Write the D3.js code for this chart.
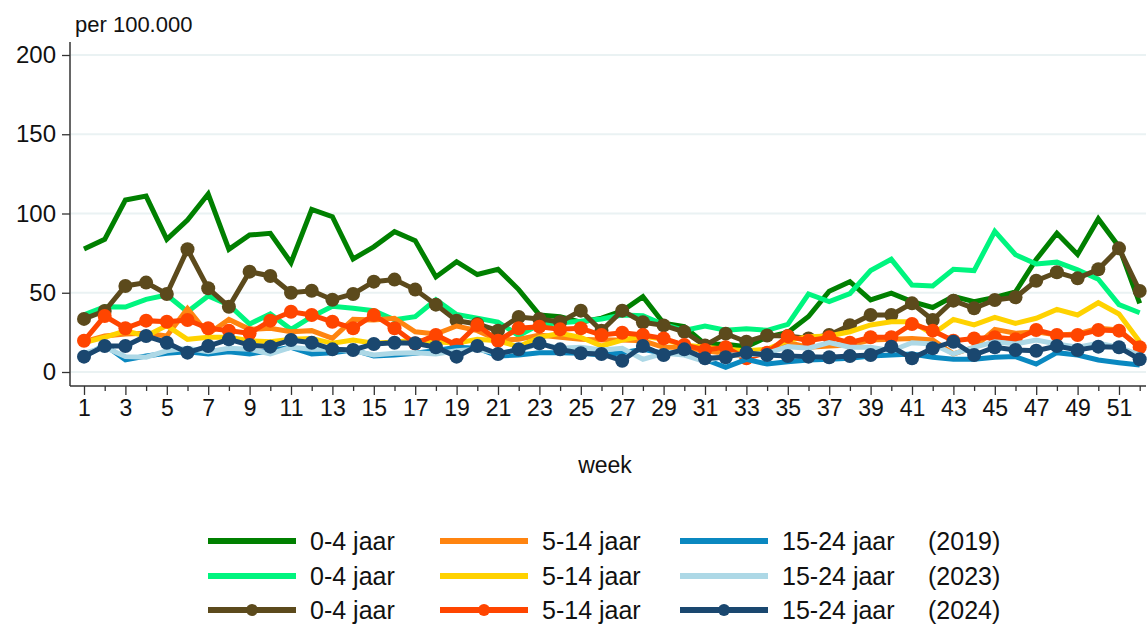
<!DOCTYPE html>
<html>
<head>
<meta charset="utf-8">
<script src="https://cdn.jsdelivr.net/npm/d3@7"></script>
<style>
  body { margin: 0; background: #fff; }
  svg { display: block; font-family: "Liberation Sans", Arial, sans-serif; }
</style>
</head>
<body>
<svg id="chart" width="1148" height="624"></svg>
<script>
// weeks 1..52
let weeks = d3.range(1, 53);
let xTickLabels = d3.range(1, 53, 2);
let yTicks = [0, 50, 100, 150, 200];

// 0-4 jaar
let age04_2019 = [77.6, 83.7, 108.5, 111, 83.7, 95.9, 112.3, 77.4, 86.4, 87.5,
    69, 102.6, 98, 71.3, 79, 88.5, 82.9, 60, 69.6, 61.5,
    64.8, 52, 36, 34.8, 31.5, 34, 38.5, 47.5, 30.8, 28.6,
    17.5, 17.5, 16, 22, 25, 35, 51, 57, 45.5, 49.8,
    44.4, 40.7, 47.7, 44.4, 47, 50.5, 71, 87.5, 74.2, 96.6,
    79, 43.3];
let age04_2023 = [36, 41.2, 41, 45.8, 48.6, 38, 48, 42.3, 30.3, 36.6,
    26.9, 34.9, 41.5, 40.2, 38.7, 33, 34.9, 45.6, 36.3, 33.9,
    31.5, 23, 30, 31, 32, 33.5, 36, 35.5, 30, 26.2,
    29, 26.3, 27.3, 26.3, 30, 49.2, 44.4, 49.4, 64, 71.1,
    54.9, 54.3, 64.8, 64, 88.7, 74, 68.1, 69.3, 64.4, 58.5,
    42.5, 37.4];
let age04_2024 = [33.5, 38.5, 54.3, 56.4, 49.2, 77.4, 52.8, 41.2, 63.3, 60.6,
    50, 51.3, 45.6, 49.2, 57, 58.3, 52, 42.5, 32.4, 30.3,
    26.1, 34.7, 33.5, 31.5, 38.7, 26, 38.7, 31.4, 29.4, 25.4,
    16.7, 24.2, 19.1, 23, 22.7, 21.2, 23.3, 29.5, 36, 36,
    43.3, 32.8, 45, 40.2, 45.4, 47.1, 57.6, 62.9, 59.1, 64.8,
    78, 51.1];

// 5-14 jaar
let age514_2019 = [19.1, 22.7, 24, 24.4, 22.7, 40, 24, 33.2, 26.9, 27.6,
    25.4, 26.1, 21.2, 33.2, 32.8, 33.9, 25.4, 24, 29, 26.1,
    20.2, 20.6, 23.3, 21.9, 20.6, 20.2, 20.2, 19.7, 15.6, 15.6,
    13.4, 11.8, 9.7, 12.8, 18.5, 15.6, 16.4, 17, 20.2, 20.6,
    21.2, 20.2, 11.4, 15.6, 26.9, 24.4, 25.4, 23.3, 24, 27.6,
    26.5, 15.6];
let age514_2023 = [18.5, 21.9, 26, 22.7, 29.3, 20.6, 21.9, 21.9, 19.7, 19.1,
    20.6, 21.2, 18.1, 20.2, 18.1, 19, 20, 19.1, 18.1, 20.6,
    19.7, 16, 21.9, 24.4, 21.9, 16.4, 20.2, 22.7, 20.6, 17,
    15.6, 14.3, 13.4, 14.3, 20, 22.3, 22.7, 25.4, 29.7, 31.7,
    31.7, 24, 33.2, 29.7, 34.5, 30.7, 33.9, 39.5, 36, 43.7,
    36.6, 19.1];
let age514_2024 = [19.7, 35.3, 27.6, 32.4, 31.7, 32.8, 27.6, 26.1, 24.4, 32.4,
    38, 36, 31.7, 27.6, 36, 27.6, 18, 23.3, 17, 29.7,
    19.7, 27.6, 28.6, 26.9, 27.6, 23.3, 24.8, 23.3, 21.2, 17,
    13.9, 15.6, 8.6, 12.2, 22.5, 19.7, 21.9, 18.5, 21.9, 21.9,
    30.3, 26.1, 19.7, 21.2, 21.9, 20.6, 26.5, 23.3, 23.3, 26.5,
    26.1, 15.6];

// 15-24 jaar
let age1524_2019 = [9.7, 17, 7.6, 10.1, 11.8, 12.8, 11.4, 12.8, 11.4, 13.4,
    15.6, 11.4, 12.2, 13.9, 10.1, 10.7, 11.8, 13.6, 15.6, 15,
    10.1, 10.7, 12.2, 12.2, 11.8, 10.7, 12.2, 14.3, 11.8, 12.2,
    8, 3, 8, 5, 6.5, 7.6, 8, 8.6, 10.1, 10.7,
    11.4, 9.3, 8, 8, 9.3, 9.7, 5, 12.2, 10.7, 7.6,
    5.9, 4.4];
let age1524_2023 = [11.8, 15.6, 9.7, 9.3, 13.4, 15, 12.8, 15, 14.3, 11.4,
    15.6, 14.3, 14.3, 13.4, 10.7, 11.8, 12.2, 11.3, 13.4, 14.3,
    11.8, 13.9, 17.7, 15, 15.6, 13.9, 15, 8, 11.8, 10.7,
    6.5, 10.7, 10.7, 11.8, 16, 15, 18.5, 15.6, 15.6, 13.4,
    18.5, 17.7, 11.4, 15.6, 19.1, 17.7, 20.2, 17.7, 15.6, 18.1,
    15.6, 10.7];
let age1524_2024 = [9.7, 16.4, 16.4, 22.7, 18.5, 12.2, 16.4, 20.6, 17, 16,
    20.2, 18.5, 14.3, 13.9, 17.7, 18.5, 18.1, 15.6, 9.7, 16.4,
    11.4, 14.3, 18.1, 14.3, 11.8, 11.4, 7.1, 16.4, 10.7, 14.3,
    8.6, 9.3, 12.2, 10.7, 10.1, 9.7, 9.3, 10.1, 10.7, 16,
    8.6, 15, 19.1, 10.7, 15.6, 13.9, 13.4, 16.4, 13.9, 16,
    15.6, 8];

let ageLabels = ["0-4 jaar", "5-14 jaar", "15-24 jaar"];
let yearLabels = ["(2019)", "(2023)", "(2024)"];

// series in legend order (column by column)
let series = [
    { values: age04_2019, color: "#008000", dots: false, col: 0, row: 0 },
    { values: age04_2023, color: "#00f57f", dots: false, col: 0, row: 1 },
    { values: age04_2024, color: "#5c4a1c", dots: true,  col: 0, row: 2 },
    { values: age514_2019, color: "#ff8410", dots: false, col: 1, row: 0 },
    { values: age514_2023, color: "#ffd200", dots: false, col: 1, row: 1 },
    { values: age514_2024, color: "#ff4500", dots: true,  col: 1, row: 2 },
    { values: age1524_2019, color: "#0a88c0", dots: false, col: 2, row: 0 },
    { values: age1524_2023, color: "#add8e6", dots: false, col: 2, row: 1 },
    { values: age1524_2024, color: "#1a476f", dots: true,  col: 2, row: 2 }
];

let chart = d3.select("#chart");

let x = d3.scaleLinear()
    .domain([1, 52])
    .range([84, 1139.7]);

let y = d3.scaleLinear()
    .domain([0, 200])
    .range([372, 55]);

let plotLeft = 70, plotRight = 1146;
let plotBottom = y(-8.8), plotTop = y(208.2);

// grid lines
chart.append("g")
    .selectAll("line")
    .data(yTicks)
    .enter()
    .append("line")
    .attr("x1", plotLeft + 1)
    .attr("x2", plotRight)
    .attr("y1", d => y(d))
    .attr("y2", d => y(d))
    .attr("stroke", "#eaf2f3")
    .attr("stroke-width", 2);

// y axis
let yAxis = d3.axisLeft(y)
    .tickValues(yTicks)
    .tickSize(8)
    .tickPadding(6);
let yAxisGroup = chart.append("g")
    .attr("transform", "translate(" + plotLeft + ",0)")
    .call(yAxis);
yAxisGroup.select(".domain").remove();
yAxisGroup.selectAll("line").attr("stroke", "#333").attr("stroke-width", 1.3);
yAxisGroup.selectAll("text")
    .attr("fill", "#111")
    .style("font-size", "24px")
    .style("font-family", "'Liberation Sans', Arial, sans-serif");

// x axis, every week a tick, odd weeks get a label
let xAxis = d3.axisBottom(x)
    .tickValues(weeks)
    .tickSize(8)
    .tickPadding(6)
    .tickFormat(d => xTickLabels.includes(d) ? d : "");
let xAxisGroup = chart.append("g")
    .attr("transform", "translate(0," + plotBottom + ")")
    .call(xAxis);
xAxisGroup.select(".domain").remove();
xAxisGroup.selectAll(".tick line")
    .attr("stroke", "#333")
    .attr("stroke-width", 1.3)
    .attr("y2", d => d % 2 == 1 ? 9 : 5);
xAxisGroup.selectAll("text")
    .attr("fill", "#111")
    .style("font-size", "23px")
    .style("font-family", "'Liberation Sans Narrow', 'Liberation Sans', Arial, sans-serif");

// axis lines
chart.append("line")
    .attr("x1", plotLeft).attr("x2", plotLeft)
    .attr("y1", plotTop).attr("y2", plotBottom)
    .attr("stroke", "#333").attr("stroke-width", 1.5);
chart.append("line")
    .attr("x1", plotLeft).attr("x2", plotRight)
    .attr("y1", plotBottom).attr("y2", plotBottom)
    .attr("stroke", "#333").attr("stroke-width", 1.5);

// titles
chart.append("text")
    .text("per 100.000")
    .attr("x", 75)
    .attr("y", 32)
    .style("font-size", "22px")
    .style("fill", "#111");

chart.append("text")
    .text("week")
    .attr("x", 605)
    .attr("y", 473)
    .style("font-size", "23px")
    .style("text-anchor", "middle")
    .style("fill", "#111");

// lines
let line = d3.line()
    .x((d, i) => x(weeks[i]))
    .y(d => y(d));

series.forEach(function(s) {
    chart.append("path")
        .datum(s.values)
        .attr("fill", "none")
        .attr("stroke", s.color)
        .attr("stroke-width", 5)
        .attr("stroke-linejoin", "miter")
        .attr("d", line);

    if (s.dots) {
        chart.append("g")
            .selectAll("circle")
            .data(s.values)
            .enter()
            .append("circle")
            .attr("cx", (d, i) => x(weeks[i]))
            .attr("cy", d => y(d))
            .attr("r", 7)
            .attr("fill", s.color);
    }
});

// legend
let legendLineX = [208, 440, 680];
let legendRowY = [541, 576, 610];

let legend = chart.append("g");
series.forEach(function(s) {
    let lx = legendLineX[s.col], ly = legendRowY[s.row];
    legend.append("line")
        .attr("x1", lx).attr("x2", lx + 88)
        .attr("y1", ly).attr("y2", ly)
        .attr("stroke", s.color)
        .attr("stroke-width", 6);
    if (s.dots) {
        legend.append("circle")
            .attr("cx", lx + 44)
            .attr("cy", ly)
            .attr("r", 6)
            .attr("fill", s.color);
    }
    legend.append("text")
        .text(ageLabels[s.col])
        .attr("x", lx + 102)
        .attr("y", ly + 9)
        .style("font-size", "25px")
        .style("fill", "#111");
});

legend.selectAll("yearlabels")
    .data(yearLabels)
    .enter()
    .append("text")
    .attr("x", 928)
    .attr("y", (d, i) => legendRowY[i] + 9)
    .text(d => d)
    .style("font-size", "25px")
    .style("fill", "#111");
</script>
</body>
</html>
